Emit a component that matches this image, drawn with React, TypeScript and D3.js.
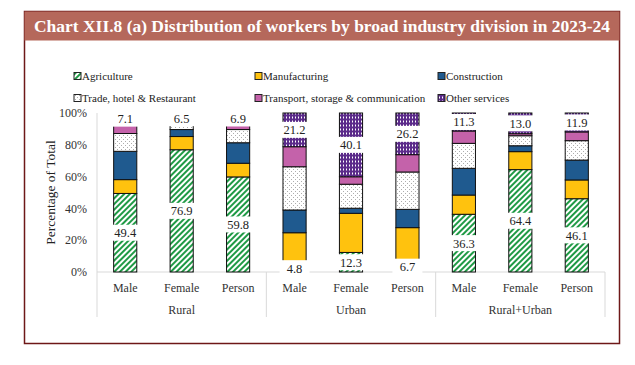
import React from 'react';
import * as d3 from 'd3';

const regions = ['Rural', 'Urban', 'Rural+Urban'];
const sexes = ['Male', 'Female', 'Person'];

const sectors = [
  'Agriculture',
  'Manufacturing',
  'Construction',
  'Trade, hotel & Restaurant',
  'Transport, storage & communication',
  'Other services'
];

// share of workers (%), one entry per bar: Rural M/F/P, Urban M/F/P, Rural+Urban M/F/P
const agriculture = [49.4, 76.9, 59.8, 4.8, 12.3, 6.7, 36.3, 64.4, 46.1];
const manufacturing = [8.7, 8.3, 8.6, 19.9, 24.6, 21.2, 12.1, 11.3, 11.8];
const construction = [17.8, 4.4, 12.9, 14.3, 3.2, 11.5, 16.8, 3.7, 12.5];
const trade = [11.2, 3.5, 8.3, 27.2, 15.1, 23.5, 15.7, 6.3, 12.2];
const transport = [5.8, 0.4, 3.5, 12.6, 4.7, 10.9, 7.8, 1.3, 5.5];
const otherServices = [7.1, 6.5, 6.9, 21.2, 40.1, 26.2, 11.3, 13.0, 11.9];

const yTicks = [0, 20, 40, 60, 80, 100];

const FONT = '"Liberation Serif", "DejaVu Serif", serif';

const fills = [
  'url(#pat-agri)',
  '#FFC20E',
  '#1F5A8F',
  'url(#pat-trade)',
  '#C462AA',
  'url(#pat-other)'
];

export default function App() {
  const WIDTH = 635;
  const HEIGHT = 365;
  const plot = { left: 97, right: 605, top: 113, bottom: 272 };

  const rows = regions.flatMap((r, ri) =>
    sexes.map((s, si) => {
      const i = ri * 3 + si;
      return {
        key: r + '-' + s,
        region: r,
        sex: s,
        [sectors[0]]: agriculture[i],
        [sectors[1]]: manufacturing[i],
        [sectors[2]]: construction[i],
        [sectors[3]]: trade[i],
        [sectors[4]]: transport[i],
        [sectors[5]]: otherServices[i]
      } as any;
    })
  );

  const xScale = d3
    .scaleBand()
    .domain(rows.map(d => d.key))
    .range([plot.left, plot.right])
    .paddingInner(0.59)
    .paddingOuter(0.295);

  const yScale = d3.scaleLinear().domain([0, 100]).range([plot.bottom, plot.top]);

  const stacked = d3.stack<any>().keys(sectors)(rows);

  const bw = xScale.bandwidth();
  const step = xScale.step();

  // group separators on the category axis
  const sepX = [0, 3, 6, 9].map(i => plot.left + step * i);

  const legendCols = [77, 258, 441];
  const legendRows = [76, 98];

  const labelBox = (cx: number, cy: number, text: string, k: string) => (
    <g key={k}>
      <rect x={cx - 15} y={cy - 8} width={30} height={16} fill="#fff" />
      <text
        x={cx}
        y={cy}
        dy="0.35em"
        textAnchor="middle"
        fontSize={12.5}
        fill="#222"
      >
        {text}
      </text>
    </g>
  );

  return (
    <svg
      width={WIDTH}
      height={HEIGHT}
      style={{ position: 'absolute', left: 0, top: 0, fontFamily: FONT }}
    >
      <defs>
        <pattern id="pat-agri" width={4} height={4} patternUnits="userSpaceOnUse" patternTransform="rotate(45)">
          <rect width={4} height={4} fill="#fff" />
          <rect width={2} height={4} fill="#1F9A45" />
        </pattern>
        <pattern id="pat-trade" width={4} height={4} patternUnits="userSpaceOnUse">
          <rect width={4} height={4} fill="#fff" />
          <rect x={1} y={1} width={0.9} height={0.9} fill="#999" />
          <rect x={3} y={3} width={0.9} height={0.9} fill="#999" />
        </pattern>
        <pattern id="pat-other" width={3} height={4} patternUnits="userSpaceOnUse">
          <rect width={3} height={4} fill="#5B2A8A" />
          <rect x={1} y={0.5} width={1} height={2} fill="#fff" />
        </pattern>
      </defs>

      {/* frame + title */}
      <rect x={24.5} y={11.5} width={595} height={332} fill="#fff" stroke="#6E1818" strokeWidth={1.5} />
      <rect x={24.5} y={11.5} width={595} height={29} fill="#B5685B" />
      <text
        x={322}
        y={31.5}
        textAnchor="middle"
        fontSize={17}
        fontWeight="bold"
        fill="#fff"
        textLength={576}
        lengthAdjust="spacingAndGlyphs"
      >
        Chart XII.8 (a) Distribution of workers by broad industry division in 2023-24
      </text>

      {/* legend */}
      {sectors.map((s, i) => {
        const x = legendCols[i % 3];
        const y = legendRows[Math.floor(i / 3)];
        return (
          <g key={s}>
            <rect x={x - 3} y={y - 3.5} width={7} height={7} fill={fills[i]} stroke="#222" strokeWidth={1} />
            <text x={x + 5} y={y} dy="0.35em" fontSize={11} fill="#222">
              {s}
            </text>
          </g>
        );
      })}

      {/* y axis */}
      <line x1={plot.left} x2={plot.left} y1={plot.top} y2={plot.bottom} stroke="#d9d9d9" />
      {yTicks.map(t => (
        <text key={t} x={87} y={yScale(t)} dy="0.35em" textAnchor="end" fontSize={12} fill="#333">
          {t}%
        </text>
      ))}
      <text
        transform={`translate(50,${(plot.top + plot.bottom) / 2}) rotate(-90)`}
        textAnchor="middle"
        dy="0.35em"
        fontSize={13.5}
        fill="#222"
      >
        Percentage of Total
      </text>

      {/* x axis */}
      <line x1={plot.left} x2={plot.right} y1={plot.bottom} y2={plot.bottom} stroke="#d9d9d9" />
      {sepX.map((x, i) => (
        <line key={i} x1={x} x2={x} y1={plot.bottom} y2={317} stroke="#d9d9d9" />
      ))}
      {rows.map(d => (
        <text
          key={d.key}
          x={(xScale(d.key) || 0) + bw / 2}
          y={288}
          dy="0.35em"
          textAnchor="middle"
          fontSize={12}
          fill="#333"
        >
          {d.sex}
        </text>
      ))}
      {regions.map((r, i) => (
        <text
          key={r}
          x={(sepX[i] + sepX[i + 1]) / 2}
          y={310}
          dy="0.35em"
          textAnchor="middle"
          fontSize={12}
          fill="#333"
        >
          {r}
        </text>
      ))}

      {/* stacked bars */}
      {stacked.map((layer, li) => (
        <g key={layer.key}>
          {layer.map((seg: any) => {
            const x = xScale(seg.data.key) || 0;
            const y0 = yScale(seg[0]);
            const y1 = yScale(seg[1]);
            return (
              <rect
                key={seg.data.key}
                x={x}
                y={y1}
                width={bw}
                height={Math.max(0, y0 - y1)}
                fill={fills[li]}
                stroke="#111"
                strokeWidth={1}
              />
            );
          })}
        </g>
      ))}

      {/* data labels: agriculture and other services */}
      {[stacked[0], stacked[5]].map(layer =>
        layer.map((seg: any) => {
          const cx = (xScale(seg.data.key) || 0) + bw / 2;
          const cy = yScale((seg[0] + seg[1]) / 2);
          const v = seg[1] - seg[0];
          return labelBox(cx, cy, v.toFixed(1), layer.key + seg.data.key);
        })
      )}
    </svg>
  );
}
